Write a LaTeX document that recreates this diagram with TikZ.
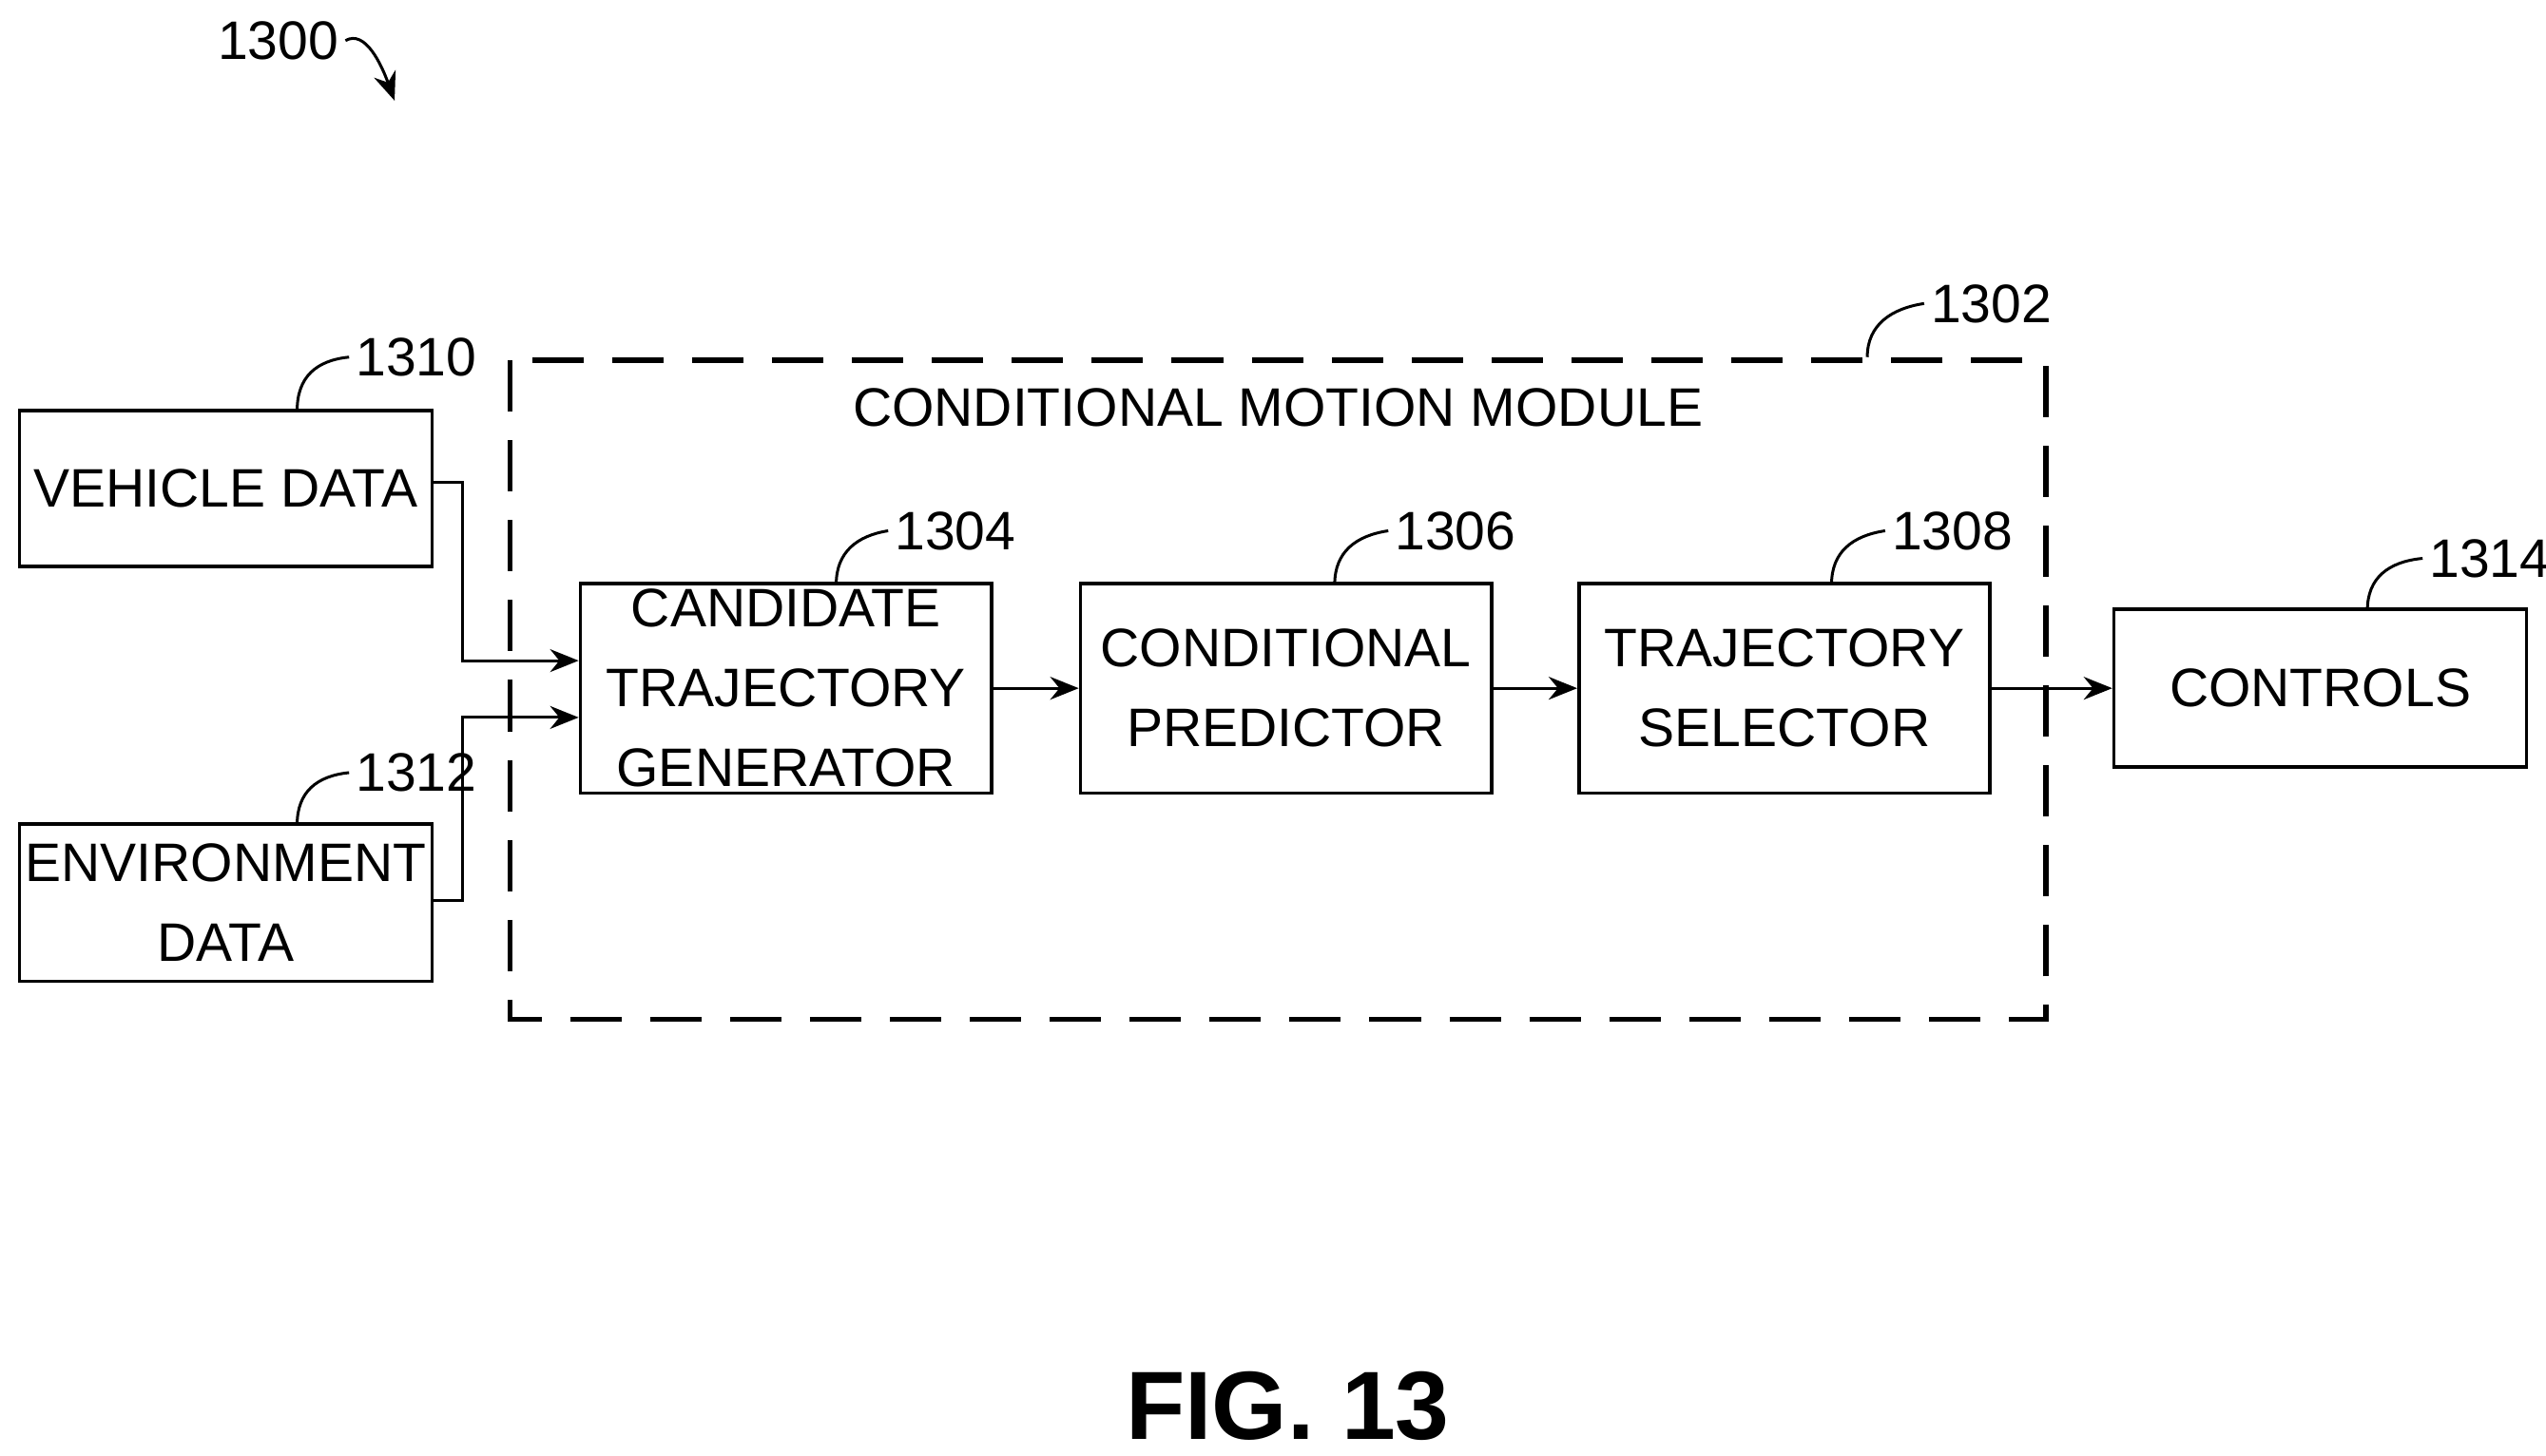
\documentclass[tikz,border=0pt]{standalone}
\usepackage{fontspec}
\setmainfont{Liberation Sans}
\usetikzlibrary{arrows.meta, positioning}
\begin{document}
\begin{tikzpicture}[x=0.01cm, y=-0.01cm, font=\fontsize{9.5}{12}\selectfont,
    block/.style={rectangle, draw, line width=0.6pt, align=center, inner sep=0pt},
    reflabel/.style={anchor=west, inner sep=1pt},
    lead/.style={line width=0.5pt},
    flow/.style={-{Stealth[length=5pt,width=4pt]}, line width=0.5pt}]
    \useasboundingbox (0,0) rectangle (1568,897);

    % outer module
    \draw [dash pattern=on 9pt off 5pt, line width=0.9pt] (314,222) rectangle (1260,628);
    \node (title) at (787,251) {CONDITIONAL MOTION MODULE};

    \node (veh) [block, minimum width=2.54cm, minimum height=0.96cm] at (139,301) {VEHICLE DATA};
    \node (env) [block, minimum width=2.54cm, minimum height=0.97cm] at (139,556) {ENVIRONMENT\\[2pt]DATA};
    \node (gen) [block, minimum width=2.53cm, minimum height=1.29cm] at (484,424) {CANDIDATE\\[2pt]TRAJECTORY\\[2pt]GENERATOR};
    \node (pred) [block, minimum width=2.53cm, minimum height=1.29cm] at (792,424) {CONDITIONAL\\[2pt]PREDICTOR};
    \node (sel) [block, minimum width=2.53cm, minimum height=1.29cm] at (1099,424) {TRAJECTORY\\[2pt]SELECTOR};
    \node (ctrl) [block, minimum width=2.54cm, minimum height=0.97cm] at (1429,424) {CONTROLS};

    % connectors
    \draw [flow] (veh.east |- 0,297) -| (285,407) -- (gen.west |- 0,407);
    \draw [flow] (env.east |- 0,555) -| (285,442) -- (gen.west |- 0,442);
    \draw [flow] (gen) -- (pred);
    \draw [flow] (pred) -- (sel);
    \draw [flow] (sel) -- (ctrl);

    % reference numerals
    \node (n1300) [reflabel] at (130,25) {1300};
    \coordinate (a1300) at (243,62);
    \draw [lead, -{Stealth[length=5pt,width=4pt]}] (n1300.east) .. controls (225,18) and (235,40) .. (a1300);
    \node (n1302) [reflabel] at (1185,187) {1302};
    \draw [lead] (1150,220) .. controls (1150,200) and (1165,190) .. (n1302.west);
    \node (n1310) [reflabel] at (215,220) {1310};
    \draw [lead] (183,253) .. controls (183,232) and (195,222) .. (n1310.west);
    \node (n1312) [reflabel] at (215,476) {1312};
    \draw [lead] (183,508) .. controls (183,488) and (195,478) .. (n1312.west);
    \node (n1304) [reflabel] at (547,327) {1304};
    \draw [lead] (515,360) .. controls (515,340) and (528,330) .. (n1304.west);
    \node (n1306) [reflabel] at (855,327) {1306};
    \draw [lead] (822,360) .. controls (822,340) and (835,330) .. (n1306.west);
    \node (n1308) [reflabel] at (1161,327) {1308};
    \draw [lead] (1128,360) .. controls (1128,340) and (1141,330) .. (n1308.west);
    \node (n1314) [reflabel] at (1492,344) {1314};
    \draw [lead] (1458,376) .. controls (1458,356) and (1471,346) .. (n1314.west);

    \node (fig) at (793,866) {\fontsize{17}{20}\selectfont\bfseries FIG. 13};
\end{tikzpicture}
\end{document}
